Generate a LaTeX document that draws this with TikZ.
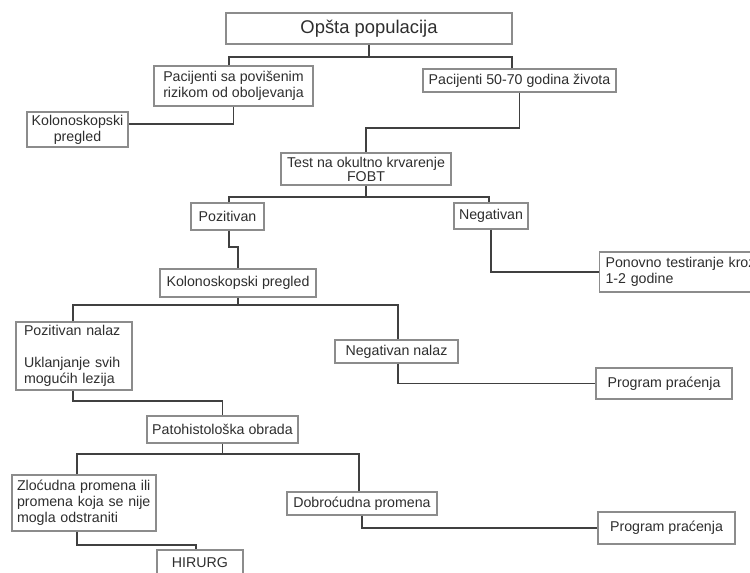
\documentclass[tikz,border=0pt]{standalone}
\usepackage{fontspec}
\setmainfont{Liberation Sans}
\begin{document}
\begin{tikzpicture}[x=1pt,y=-1pt,
  box/.style={draw=black!45, fill=white, line width=1.1pt, inner sep=0pt,
    text=black!82, font=\fontsize{14.2}{16}\selectfont, align=center},
  lbox/.style={box, align=left},
  conn/.style={draw=black!75, line width=1.8pt}]
\useasboundingbox (0,0) rectangle (750,573);
\clip (0,0) rectangle (750,573);
\fill[white] (0,0) rectangle (750,573);

% nodes
\node[box, minimum width=286, minimum height=31, font=\fontsize{18.4}{20}\selectfont] (opsta) at (369,28.5) {Opšta populacija};
\node[box, minimum width=159, minimum height=40] (rizik) at (233.5,86) {Pacijenti sa povišenim\\rizikom od oboljevanja};
\node[box, minimum width=193, minimum height=23] (p5070) at (519.5,80.5) {Pacijenti 50-70 godina života};
\node[box, minimum width=101, minimum height=35] (kolo1) at (77.5,129.5) {Kolonoskopski\\pregled};
\node[box, minimum width=170, minimum height=32, font=\fontsize{14.2}{14}\selectfont] (test) at (366,169) {Test na okultno krvarenje\\FOBT};
\node[box, minimum width=73, minimum height=27] (poz) at (227.5,216.5) {Pozitivan};
\node[box, minimum width=74, minimum height=26] (neg) at (491,216) {Negativan};
\node[lbox, text width=188, inner xsep=6, minimum height=40, anchor=west] (ponovno) at (599,272) {Ponovno testiranje kroz\\1-2 godine};
\node[box, minimum width=156, minimum height=28] (kolo2) at (238,283) {Kolonoskopski pregled};
\node[lbox, text width=100, inner xsep=8, minimum height=68] (poznal) at (74,356) {Pozitivan nalaz\\[16pt]Uklanjanje svih\\mogućih lezija};
\node[box, minimum width=123, minimum height=23] (negnal) at (396.5,351.5) {Negativan nalaz};
\node[box, minimum width=136, minimum height=31] (prog1) at (664,383.5) {Program praćenja};
\node[box, minimum width=151, minimum height=27] (pato) at (222.5,429.5) {Patohistološka obrada};
\node[lbox, text width=134, inner xsep=5, minimum height=56] (zlo) at (84,503) {Zloćudna promena ili\\promena koja se nije\\mogla odstraniti};
\node[box, minimum width=150, minimum height=23] (dobro) at (362,503.5) {Dobroćudna promena};
\node[box, minimum width=137, minimum height=32] (prog2) at (666.5,528) {Program praćenja};
\node[box, minimum width=86, minimum height=26] (hirurg) at (200,563) {HIRURG};

% junctions
\coordinate (j1) at (369,57);
\coordinate (k1) at (0,124);
\coordinate (j2) at (366,128);
\coordinate (j3) at (366,197);
\coordinate (j4) at (238,247);
\coordinate (j5) at (238,305);
\coordinate (j6) at (222.5,401);
\coordinate (j7) at (222.5,454);
\coordinate (j8) at (196,545);

% connectors
\draw[conn] (opsta.south) -- (j1);
\draw[conn] ([xshift=-4.5]rizik.north) |- (j1) -| ([xshift=-7.5]p5070.north);
\draw[conn] (rizik.south) |- (kolo1.east |- k1);
\draw[conn] (p5070.south) |- (j2) -- (test.north);
\draw[conn] (test.south) -- (j3);
\draw[conn] ([xshift=1.5]poz.north) |- (j3) -| ([xshift=-2]neg.north);
\draw[conn] ([xshift=1.5]poz.south) |- (j4) -- (kolo2.north);
\draw[conn] (neg.south) |- (ponovno.west);
\draw[conn] (kolo2.south) -- (j5);
\draw[conn] ([xshift=-1]poznal.north) |- (j5) -| ([xshift=1.5]negnal.north);
\draw[conn] ([xshift=1.5]negnal.south) |- (prog1.west);
\draw[conn] ([xshift=-1]poznal.south) |- (j6) -- (pato.north);
\draw[conn] (pato.south) -- (j7);
\draw[conn] ([xshift=-7]zlo.north) |- (j7) -| ([xshift=-3]dobro.north);
\draw[conn] ([xshift=-7]zlo.south) |- (j8) -- ([xshift=-4]hirurg.north);
\draw[conn] (dobro.south) |- (prog2.west);
\end{tikzpicture}
\end{document}
